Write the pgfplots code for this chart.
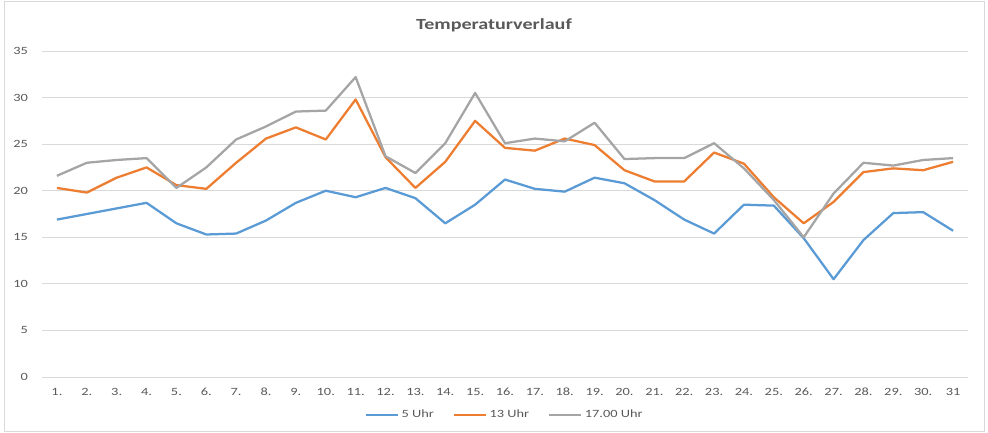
\documentclass[border=0pt]{standalone}
\usepackage{pgfplots}
\pgfplotsset{compat=1.18}
\usepackage{pgfplotstable}
\usepackage{fontspec}
\setmainfont[FakeStretch=1.3]{Carlito}
\definecolor{cblue}{HTML}{5B9BD5}
\definecolor{corange}{HTML}{ED7D31}
\definecolor{cgray}{HTML}{A5A5A5}
\definecolor{ctext}{HTML}{595959}
\definecolor{cgrid}{HTML}{D9D9D9}

\pgfplotstableread{
d a b c
1 16.9 20.3 21.6
2 17.5 19.8 23.0
3 18.1 21.4 23.3
4 18.7 22.5 23.5
5 16.5 20.6 20.3
6 15.3 20.2 22.5
7 15.4 23.0 25.5
8 16.8 25.6 26.9
9 18.7 26.8 28.5
10 20.0 25.5 28.6
11 19.3 29.8 32.2
12 20.3 23.6 23.7
13 19.2 20.3 21.9
14 16.5 23.1 25.1
15 18.5 27.5 30.5
16 21.2 24.6 25.1
17 20.2 24.3 25.6
18 19.9 25.6 25.3
19 21.4 24.9 27.3
20 20.8 22.2 23.4
21 19.0 21.0 23.5
22 16.9 21.0 23.5
23 15.4 24.1 25.1
24 18.5 22.9 22.4
25 18.4 19.3 19.0
26 14.9 16.5 15.0
27 10.5 18.8 19.7
28 14.7 22.0 23.0
29 17.6 22.4 22.7
30 17.7 22.2 23.3
31 15.7 23.1 23.5
}\temps

\begin{document}
\begin{tikzpicture}
\useasboundingbox (0,0) rectangle (741pt,324pt);
\draw[cgrid, line width=0.75pt] (3pt,0.75pt) rectangle (738pt,323pt);
\node[font=\bfseries\fontsize{11.6}{14}\selectfont, text=ctext] at (370.5pt,305pt) {Temperaturverlauf};
\begin{axis}[
  at={(31.5pt,41.25pt)}, anchor=south west,
  scale only axis, width=694.5pt, height=244.5pt,
  xmin=0.5, xmax=31.5, ymin=0, ymax=35,
  xtick={1,...,31},
  xticklabels={1.,2.,3.,4.,5.,6.,7.,8.,9.,10.,11.,12.,13.,14.,15.,16.,17.,18.,19.,20.,21.,22.,23.,24.,25.,26.,27.,28.,29.,30.,31},
  ytick={0,5,...,35},
  axis line style={draw=none},
  major tick length=0pt,
  ymajorgrids, grid style={cgrid, line width=0.75pt},
  tick label style={font=\fontsize{8.3}{10}\selectfont, text=ctext},
  yticklabel style={xshift=-7pt},
  xticklabel style={yshift=-5pt},
  /pgf/number format/assume math mode=true,
  legend style={at={(0.5,-0.1166)}, anchor=center, draw=none, fill=none,
    font=\fontsize{8.3}{10}\selectfont, text=ctext, legend columns=3,
    /tikz/every even column/.append style={column sep=12pt}},
  legend image code/.code={\draw[#1] (0pt,0pt) -- (24pt,0pt);},
  every axis plot/.append style={line width=1.7pt, line join=round, no marks},
]
\addplot[cblue] table[x=d,y=a] {\temps};
\addplot[corange] table[x=d,y=b] {\temps};
\addplot[cgray] table[x=d,y=c] {\temps};
\legend{5 Uhr,13 Uhr,17.00 Uhr}
\end{axis}
\end{tikzpicture}
\end{document}
